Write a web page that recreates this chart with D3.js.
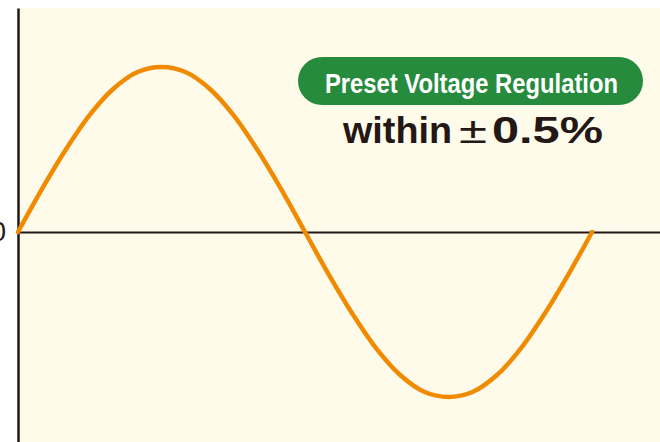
<!DOCTYPE html>
<html>
<head>
<meta charset="utf-8">
<script src="https://cdn.jsdelivr.net/npm/d3@7"></script>
<style>
  html, body { margin: 0; padding: 0; background: #fff; }
  svg { display: block; }
</style>
</head>
<body>
<div id="chart"></div>
<script>
// Phase (degrees) and normalised voltage
const phaseDeg = [0, 15, 30, 45, 60, 75, 90, 105, 120, 135, 150, 165, 180,
  195, 210, 225, 240, 255, 270, 285, 300, 315, 330, 345, 360];
const voltage = [0, 0.26, 0.5, 0.71, 0.87, 0.97, 1, 0.97, 0.87, 0.71, 0.5, 0.26, 0,
  -0.26, -0.5, -0.71, -0.87, -0.97, -1, -0.97, -0.87, -0.71, -0.5, -0.26, 0];
const yTicks = [0];
const badgeText = 'Preset Voltage Regulation';
const noteWord = 'within';
const noteSign = '±';
const noteValue = '0.5%';

const W = 660, H = 442;
const svg = d3.select('#chart').append('svg')
  .attr('width', W).attr('height', H);

const plot = { left: 18, top: 8, right: W, bottom: H };

svg.append('rect')
  .attr('x', plot.left).attr('y', plot.top)
  .attr('width', plot.right - plot.left).attr('height', plot.bottom - plot.top)
  .attr('fill', '#fffbeb');

const x = d3.scaleLinear().domain([0, 402.6]).range([plot.left, plot.right]);
const y = d3.scaleLinear().domain([-1.2727, 1.3576]).range([plot.bottom, plot.top]);

// zero line
svg.append('g')
  .attr('transform', `translate(0,${y(0)})`)
  .call(d3.axisBottom(x).tickValues([]).tickSizeOuter(0))
  .call(g => g.select('.domain').attr('stroke', '#231815').attr('stroke-width', 2));

// y axis ("0" sits partly off the left edge, as in the original)
svg.append('g')
  .attr('transform', `translate(${plot.left},0)`)
  .call(d3.axisLeft(y).tickValues(yTicks).tickSize(0).tickPadding(12).tickSizeOuter(0))
  .call(g => g.select('.domain').attr('stroke', '#231815').attr('stroke-width', 2.5))
  .call(g => g.selectAll('text')
    .attr('fill', '#231815')
    .style('font-family', 'Liberation Sans, Arial, sans-serif')
    .style('font-size', '27px'));

const pts = phaseDeg.map((d, i) => [d, voltage[i]]);
svg.append('path')
  .datum(pts)
  .attr('fill', 'none')
  .attr('stroke', '#f08a00')
  .attr('stroke-width', 4.5)
  .attr('stroke-linecap', 'round')
  .attr('d', d3.line().x(d => x(d[0])).y(d => y(d[1])).curve(d3.curveCatmullRom));

// badge (condensed look: narrow width, stretched vertically)
const badge = svg.append('g');
badge.append('rect')
  .attr('x', 298).attr('y', 57).attr('width', 345).attr('height', 48)
  .attr('rx', 24).attr('fill', '#268b3c');
badge.append('text')
  .attr('transform', 'translate(471.5,93) scale(1,1.2)')
  .attr('text-anchor', 'middle')
  .attr('fill', '#fff')
  .attr('textLength', 293)
  .attr('lengthAdjust', 'spacingAndGlyphs')
  .style('font-family', 'Liberation Sans, Arial, sans-serif')
  .style('font-weight', 'bold')
  .style('font-size', '23px')
  .text(badgeText);

const noteFont = 'Liberation Sans, Arial, sans-serif';
svg.append('text')
  .attr('x', 343).attr('y', 143)
  .attr('fill', '#231815')
  .attr('textLength', 109)
  .attr('lengthAdjust', 'spacingAndGlyphs')
  .style('font-family', noteFont).style('font-weight', 'bold').style('font-size', '36px')
  .text(noteWord);
svg.append('text')
  .attr('x', 459).attr('y', 143)
  .attr('fill', '#231815')
  .attr('textLength', 28)
  .attr('lengthAdjust', 'spacingAndGlyphs')
  .style('font-family', noteFont).style('font-size', '36px')
  .text(noteSign);
svg.append('text')
  .attr('x', 492).attr('y', 143)
  .attr('fill', '#231815')
  .attr('textLength', 111)
  .attr('lengthAdjust', 'spacingAndGlyphs')
  .style('font-family', noteFont).style('font-weight', 'bold').style('font-size', '37px')
  .text(noteValue);
</script>
</body>
</html>
